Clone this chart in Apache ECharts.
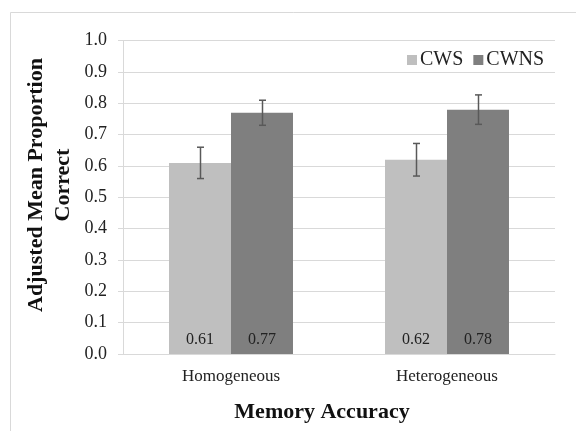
<!DOCTYPE html>
<html>
<head>
<meta charset="utf-8">
<script src="https://cdn.jsdelivr.net/npm/echarts@6/dist/echarts.min.js"></script>
<style>html,body{margin:0;padding:0;background:#fff}#c{width:576px;height:431px}</style>
</head>
<body>
<div id="c"></div>
<script>
var categories = ['Homogeneous', 'Heterogeneous'];
var seriesNames = ['CWS', 'CWNS'];
var cwsValues = [0.61, 0.62];
var cwnsValues = [0.77, 0.78];
var cwsErrors = [0.05, 0.052];
var cwnsErrors = [0.04, 0.047];
var yTicks = [0, 0.1, 0.2, 0.3, 0.4, 0.5, 0.6, 0.7, 0.8, 0.9, 1.0];

var FONT = '"Liberation Serif", "Times New Roman", serif';
var GAP = 0.426;

function errData(vals, errs) {
  return vals.map(function (v, i) { return [i, v - errs[i], v + errs[i]]; });
}
function makeErr(sign) {
  return function (params, api) {
    var xi = api.value(0);
    var lo = api.coord([xi, api.value(1)]);
    var hi = api.coord([xi, api.value(2)]);
    var band = api.size([1, 0])[0];
    var barW = band * (1 - GAP) / 2;
    var x = Math.round(lo[0] + sign * barW / 2) + 0.5;
    var cap = 3.5;
    var st = { stroke: '#595959', lineWidth: 1.5 };
    return {
      type: 'group',
      children: [
        { type: 'line', shape: { x1: x, y1: hi[1], x2: x, y2: lo[1] }, style: st },
        { type: 'line', shape: { x1: x - cap, y1: hi[1], x2: x + cap, y2: hi[1] }, style: st },
        { type: 'line', shape: { x1: x - cap, y1: lo[1], x2: x + cap, y2: lo[1] }, style: st }
      ]
    };
  };
}

var chart = echarts.init(document.getElementById('c'));
chart.setOption({
  animation: false,
  backgroundColor: '#fff',
  textStyle: { fontFamily: FONT },
  grid: { left: 123, right: 21, top: 40.7, bottom: 77, containLabel: false },
  legend: {
    data: seriesNames,
    left: 402, top: 45,
    icon: 'rect', itemWidth: 10, itemHeight: 10, itemGap: 10,
    textStyle: { fontFamily: FONT, fontSize: 20, color: '#222', padding: [0, 0, 0, -2] }
  },
  xAxis: {
    type: 'category',
    data: categories,
    axisLine: { show: true, lineStyle: { color: '#d9d9d9', width: 1 } },
    axisTick: { show: false },
    axisLabel: { fontFamily: FONT, fontSize: 17, color: '#222', margin: 14 },
    splitLine: { show: false }
  },
  yAxis: {
    type: 'value',
    min: 0, max: 1, interval: 0.1,
    axisLine: { show: true, lineStyle: { color: '#d9d9d9', width: 1 } },
    axisTick: { show: true, length: 5, lineStyle: { color: '#d9d9d9' } },
    axisLabel: {
      fontFamily: FONT, fontSize: 18, color: '#222', margin: 16,
      formatter: function (v) { return v.toFixed(1); }
    },
    splitLine: { show: true, lineStyle: { color: '#d9d9d9', width: 1 } }
  },
  graphic: [
    { type: 'rect', z: -1, shape: { x: 10.5, y: 12.5, width: 700, height: 600 }, style: { fill: 'none', stroke: '#d9d9d9', lineWidth: 1 } },
    { type: 'text', x: 50, y: 185, rotation: Math.PI / 2, style: {
        text: 'Adjusted Mean Proportion\nCorrect', fontFamily: FONT, fontSize: 22, fontWeight: 'bold',
        fill: '#111', align: 'center', verticalAlign: 'middle', lineHeight: 27 } },
    { type: 'text', x: 322, y: 412, style: {
        text: 'Memory Accuracy', fontFamily: FONT, fontSize: 22, fontWeight: 'bold',
        fill: '#111', align: 'center', verticalAlign: 'middle' } }
  ],
  series: [
    {
      name: 'CWS', type: 'bar', data: cwsValues,
      barGap: '0%', barCategoryGap: (GAP * 100) + '%',
      itemStyle: { color: '#bfbfbf' },
      label: { show: true, position: 'insideBottom', distance: 6, fontFamily: FONT, fontSize: 16, color: '#222',
        formatter: function (p) { return p.value.toFixed(2); } }
    },
    {
      name: 'CWNS', type: 'bar', data: cwnsValues,
      barGap: '0%', barCategoryGap: (GAP * 100) + '%',
      itemStyle: { color: '#7f7f7f' },
      label: { show: true, position: 'insideBottom', distance: 6, fontFamily: FONT, fontSize: 16, color: '#222',
        formatter: function (p) { return p.value.toFixed(2); } }
    },
    { type: 'custom', renderItem: makeErr(-1), data: errData(cwsValues, cwsErrors), z: 10, silent: true },
    { type: 'custom', renderItem: makeErr(1), data: errData(cwnsValues, cwnsErrors), z: 10, silent: true }
  ]
});
</script>
</body>
</html>
